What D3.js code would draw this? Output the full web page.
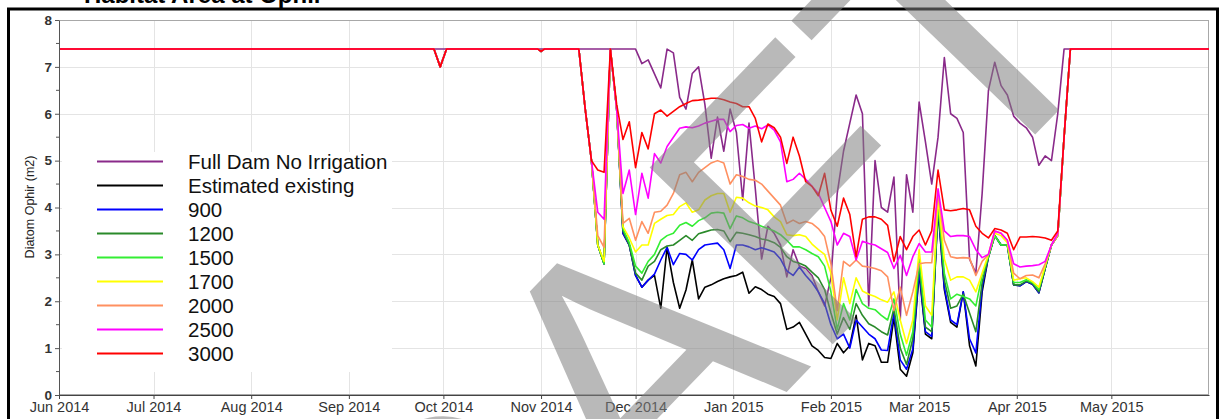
<!DOCTYPE html>
<html lang="en">
  <head>
    <meta charset="UTF-8" />
    <title>Habitat Area at Ophir</title>
    <script src="https://d3js.org/d3.v7.min.js"></script>
    <style>
      body { margin: 0; background: #fff; }
      svg { display: block; font-family: "Liberation Sans", Arial, sans-serif; }
    </style>
  </head>
  <body>
    <svg></svg>
    <script>
      let width = 1221,
        height = 419;

      // dates shared by every series (flat winter part, then every 2nd day while flows vary)
      const dates = [
        "2014-06-01", "2014-09-28", "2014-09-30", "2014-10-02", "2014-10-31", "2014-11-01", "2014-11-02",
        "2014-11-13", "2014-11-15", "2014-11-17", "2014-11-19", "2014-11-21", "2014-11-23", "2014-11-25", "2014-11-27", "2014-11-29",
        "2014-12-01", "2014-12-03", "2014-12-05", "2014-12-07", "2014-12-09", "2014-12-11", "2014-12-13", "2014-12-15",
        "2014-12-17", "2014-12-19", "2014-12-21", "2014-12-23", "2014-12-25", "2014-12-27", "2014-12-29", "2014-12-31",
        "2015-01-02", "2015-01-04", "2015-01-06", "2015-01-08", "2015-01-10", "2015-01-12", "2015-01-14", "2015-01-16",
        "2015-01-18", "2015-01-20", "2015-01-22", "2015-01-24", "2015-01-26", "2015-01-28", "2015-01-30",
        "2015-02-01", "2015-02-03", "2015-02-05", "2015-02-07", "2015-02-09", "2015-02-11", "2015-02-13",
        "2015-02-15", "2015-02-17", "2015-02-19", "2015-02-21", "2015-02-23", "2015-02-25", "2015-02-27",
        "2015-03-01", "2015-03-03", "2015-03-05", "2015-03-07", "2015-03-09", "2015-03-11", "2015-03-13", "2015-03-15",
        "2015-03-17", "2015-03-19", "2015-03-21", "2015-03-23", "2015-03-25", "2015-03-27", "2015-03-29", "2015-03-31",
        "2015-04-02", "2015-04-04", "2015-04-06", "2015-04-08", "2015-04-10", "2015-04-12", "2015-04-14", "2015-04-16", "2015-04-18",
        "2015-06-01"
      ];

      const fullDam = [
        7.38, 7.38, 7.38, 7.38, 7.38, 7.38, 7.38,
        7.38, 7.38, 7.38, 7.38, 7.38, 7.38, 7.38, 7.38, 7.38,
        7.38, 7.07, 7.15, 6.85, 6.55, 7.38, 7.3, 6.35, 6.1, 6.86, 7.0, 6.2, 5.05, 5.93, 5.2, 6.1,
        5.6, 4.16, 5.8, 4.4, 2.9, 3.6, 3.45, 3.2, 2.52, 3.1, 2.75, 2.7, 2.55, 2.2, 1.9,
        2.5, 4.3, 5.2, 5.8, 6.4, 6.0, 1.9, 5.0, 4.0, 3.9, 4.65, 1.6, 4.7, 3.9,
        6.25, 5.4, 4.5, 5.5, 7.2, 6.0, 5.9, 5.6, 2.9, 2.6, 4.3, 6.5, 7.1, 6.6, 6.4, 5.95,
        5.8, 5.7, 5.5, 4.9, 5.1, 5.0, 6.0, 7.38, 7.38,
        7.38
      ];
      const estimated = [
        7.38, 7.38, 7.0, 7.38, 7.38, 7.33, 7.38,
        7.38, 6.11, 5.0, 3.2, 2.8, 7.38, 6.1, 3.45, 3.2,
        2.55, 2.3, 2.45, 2.55, 1.85, 3.15, 2.4, 1.85, 2.24, 2.88, 2.05, 2.3, 2.35, 2.42, 2.48, 2.52,
        2.55, 2.62, 2.17, 2.31, 2.25, 2.15, 2.1, 1.95, 1.4, 1.45, 1.55, 1.3, 1.05, 0.95, 0.8,
        0.78, 1.1, 0.9, 1.05, 1.7, 0.75, 1.1, 1.05, 0.7, 0.7, 1.65, 0.55, 0.4, 0.9,
        2.6, 1.3, 1.2, 3.95, 2.25, 1.55, 1.45, 2.2, 1.05, 0.62, 2.2, 2.95, 3.4, 3.2, 3.2, 2.35,
        2.33, 2.42, 2.36, 2.18, 2.7, 3.2, 3.4, 5.5, 7.38,
        7.38
      ];
      const flow900 = [
        7.38, 7.38, 7.0, 7.38, 7.38, 7.33, 7.38,
        7.38, 6.11, 5.0, 3.2, 2.8, 7.38, 6.1, 3.45, 3.2,
        2.55, 2.3, 2.45, 2.58, 2.88, 3.15, 2.78, 3.02, 3.0, 2.88, 3.1, 3.2, 3.22, 3.24, 3.1, 2.7,
        3.2, 3.2, 3.16, 3.1, 3.14, 3.1, 3.05, 2.9, 2.65, 2.55, 2.73, 2.55, 2.4, 2.2, 1.95,
        1.5, 1.2, 1.3, 1.0, 1.6, 1.45, 1.3, 1.2, 0.96, 0.95, 1.75, 0.75, 0.55, 0.98,
        2.65, 1.35, 1.25, 4.0, 2.3, 1.6, 1.5, 2.2, 1.2, 0.9, 2.3, 2.95, 3.4, 3.2, 3.2, 2.35,
        2.33, 2.42, 2.36, 2.18, 2.7, 3.2, 3.4, 5.5, 7.38,
        7.38
      ];
      const flow1200 = [
        7.38, 7.38, 7.0, 7.38, 7.38, 7.33, 7.38,
        7.38, 6.11, 5.0, 3.2, 2.8, 7.38, 6.1, 3.5, 3.2,
        2.6, 2.45, 2.75, 2.85, 3.1, 3.18, 3.2, 3.3, 3.4, 3.3, 3.44, 3.48, 3.52, 3.53, 3.5, 3.27,
        3.47, 3.45, 3.42, 3.38, 3.33, 3.3, 3.25, 3.15, 2.95, 2.85, 2.81, 2.75, 2.62, 2.5, 2.25,
        1.75, 1.3, 1.65, 1.4, 1.95, 1.7, 1.52, 1.45, 1.35, 1.28, 1.85, 1.0, 0.65, 1.2,
        2.8, 1.45, 1.35, 4.05, 2.45, 1.85, 1.9, 2.15, 1.75, 1.35, 2.4, 2.95, 3.4, 3.2, 3.2, 2.35,
        2.35, 2.43, 2.38, 2.2, 2.7, 3.2, 3.4, 5.5, 7.38,
        7.38
      ];
      const flow1500 = [
        7.38, 7.38, 7.0, 7.38, 7.38, 7.33, 7.38,
        7.38, 6.11, 5.0, 3.2, 2.8, 7.38, 6.1, 3.55, 3.25,
        2.75, 2.6, 2.85, 3.0, 3.3, 3.4, 3.45, 3.62, 3.68, 3.6, 3.72, 3.78, 3.88, 3.9, 3.88, 3.55,
        3.82, 3.78, 3.7, 3.66, 3.6, 3.55, 3.5, 3.42, 3.3, 3.16, 3.16, 3.1, 3.02, 2.95, 2.75,
        2.2, 1.4, 1.95, 1.6, 2.25, 1.95, 1.85, 1.82, 1.7, 1.6, 2.05, 1.3, 0.85, 1.35,
        2.9, 1.6, 1.45, 4.1, 2.6, 2.05, 2.15, 2.1, 2.05, 1.9, 2.55, 2.95, 3.4, 3.2, 3.2, 2.4,
        2.4, 2.46, 2.4, 2.25, 2.73, 3.2, 3.4, 5.5, 7.38,
        7.38
      ];
      const flow1700 = [
        7.38, 7.38, 7.0, 7.38, 7.38, 7.33, 7.38,
        7.38, 6.11, 5.0, 3.2, 2.85, 7.38, 6.1, 3.59, 3.35,
        3.05, 3.2, 3.2, 3.66, 3.75, 3.83, 3.85, 4.02, 4.1, 3.9, 3.95, 4.16, 4.25, 4.3, 4.3, 3.9,
        4.22, 4.2, 4.1, 4.03, 4.0, 3.95, 3.8, 3.7, 3.42, 3.4, 3.42, 3.38, 3.22, 3.1, 3.0,
        2.6, 1.6, 2.5, 1.95, 2.5, 2.22, 2.15, 2.1, 2.03, 1.98, 2.2, 1.6, 1.1, 1.6,
        3.1, 1.9, 1.7, 4.2, 2.9, 2.45, 2.52, 2.52, 2.45, 2.2, 2.6, 3.0, 3.45, 3.4, 3.25, 2.45,
        2.48, 2.5, 2.42, 2.3, 2.75, 3.2, 3.4, 5.5, 7.38,
        7.38
      ];
      const flow2000 = [
        7.38, 7.38, 7.0, 7.38, 7.38, 7.33, 7.38,
        7.38, 6.11, 5.0, 3.4, 3.15, 7.38, 6.1, 3.66, 3.77,
        3.3, 3.7, 3.45, 3.9, 3.92, 4.05, 4.3, 4.7, 4.75, 4.55, 4.75, 4.85, 4.95, 5.0, 4.95, 4.5,
        4.7, 4.66, 4.6, 4.58, 4.5, 4.35, 4.2, 4.05, 3.66, 3.73, 3.66, 3.7, 3.66, 3.55, 3.38,
        2.8, 1.8, 2.85, 2.75, 2.88, 2.75, 2.73, 2.7, 2.65, 2.52, 1.8, 2.3, 1.7, 2.2,
        2.8, 2.82, 2.82, 4.3, 3.3, 2.95, 2.92, 2.93, 2.92, 2.55, 2.85, 3.0, 3.5, 3.45, 3.3, 2.6,
        2.48, 2.55, 2.56, 2.5, 2.8, 3.2, 3.4, 5.5, 7.38,
        7.38
      ];
      const flow2500 = [
        7.38, 7.38, 7.0, 7.38, 7.38, 7.33, 7.38,
        7.38, 6.11, 5.0, 3.9, 3.75, 7.38, 6.1, 4.3, 4.8,
        3.85, 4.73, 4.2, 5.15, 4.95, 5.3, 5.5, 5.69, 5.72, 5.7, 5.74, 5.8, 5.84, 5.88, 5.88, 5.62,
        5.75, 5.77, 5.69, 5.74, 5.68, 5.76, 5.65, 5.4, 4.55, 4.6, 4.73, 4.6, 4.45, 4.3, 4.0,
        3.7, 3.2, 3.45, 3.38, 2.88, 3.28, 3.23, 3.2, 3.12, 3.04, 2.7, 2.98, 2.55, 2.95,
        3.23, 3.05, 3.05, 4.4, 3.5, 3.38, 3.4, 3.4, 3.38, 3.1, 2.93, 3.0, 3.5, 3.45, 3.3, 2.8,
        2.73, 2.75, 2.76, 2.78, 2.85, 3.2, 3.45, 5.5, 7.38,
        7.38
      ];
      const flow3000 = [
        7.38, 7.38, 7.0, 7.38, 7.38, 7.33, 7.38,
        7.38, 6.11, 5.0, 4.8, 4.75, 7.38, 6.2, 5.45, 5.83,
        4.85, 5.6, 5.25, 6.0, 6.08, 5.95, 6.05, 6.15, 6.22, 6.28, 6.29, 6.31, 6.33, 6.33, 6.3, 6.25,
        6.22, 6.15, 6.15, 5.9, 5.4, 5.78, 5.7, 5.5, 4.94, 5.5, 5.1, 4.55, 4.45, 4.25, 4.73,
        3.94, 3.6, 4.2, 3.85, 2.95, 3.75, 3.8, 3.8, 3.75, 3.62, 2.85, 3.38, 3.1, 3.38,
        3.52, 3.2, 3.5, 4.8, 3.95, 3.93, 3.95, 3.98, 3.95, 3.6, 3.45, 3.35, 3.55, 3.52, 3.45, 3.1,
        3.37, 3.37, 3.38, 3.37, 3.35, 3.3, 3.5, 5.5, 7.38,
        7.38
      ];

      const seriesNames = ["Full Dam No Irrigation", "Estimated existing", "900", "1200", "1500", "1700", "2000", "2500", "3000"];
      const seriesColors = ["#8a2a8a", "#000000", "#0000ff", "#2a8a2a", "#33ee33", "#ffff00", "#ff9060", "#ff00ff", "#ff0000"];
      const seriesValues = [fullDam, estimated, flow900, flow1200, flow1500, flow1700, flow2000, flow2500, flow3000];

      const yTicks = [0, 1, 2, 3, 4, 5, 6, 7, 8];
      const yMinor = [0.5, 1.5, 2.5, 3.5, 4.5, 5.5, 6.5, 7.5];

      let parseDate = d3.timeParse("%Y-%m-%d");
      let svg = d3.select("svg").attr("width", width).attr("height", height);

      let x = d3
        .scaleTime()
        .domain([parseDate("2014-06-01"), parseDate("2015-06-01")])
        .range([59, 1209]);
      let y = d3.scaleLinear().domain([0, 8]).range([395, 20]);
      let months = d3.timeMonth.range(parseDate("2014-06-01"), parseDate("2015-06-01"));

      // outer frame + title (title sits mostly above the picture)
      svg
        .append("text")
        .attr("x", 84)
        .attr("y", 3)
        .attr("font-size", 24)
        .attr("font-weight", "bold")
        .text("Habitat Area at Ophir");
      svg
        .append("rect")
        .attr("x", 8.5)
        .attr("y", 9)
        .attr("width", 1209)
        .attr("height", 440)
        .attr("fill", "none")
        .attr("stroke", "#000")
        .attr("stroke-width", 3);

      // grid
      let grid = svg.append("g").attr("stroke", "#e4e4e4").attr("stroke-width", 1);
      grid
        .selectAll("line.v")
        .data(months.slice(1))
        .enter()
        .append("line")
        .attr("x1", (d) => Math.round(x(d)) + 0.5)
        .attr("x2", (d) => Math.round(x(d)) + 0.5)
        .attr("y1", y(8))
        .attr("y2", y(0));
      grid
        .selectAll("line.h")
        .data(yTicks.slice(1, -1))
        .enter()
        .append("line")
        .attr("x1", x.range()[0])
        .attr("x2", x.range()[1])
        .attr("y1", (d) => Math.round(y(d)) + 0.5)
        .attr("y2", (d) => Math.round(y(d)) + 0.5);

      svg
        .append("rect")
        .attr("x", 59.5)
        .attr("y", 20.5)
        .attr("width", 1149)
        .attr("height", 374)
        .attr("fill", "none")
        .attr("stroke", "#a8a8a8");

      // legend box hides the grid behind it
      let legend = svg.append("g");
      legend
        .append("rect")
        .attr("x", 62)
        .attr("y", 152)
        .attr("width", 330)
        .attr("height", 220)
        .attr("fill", "#fff");

      // lines
      svg
        .append("clipPath")
        .attr("id", "plot")
        .append("rect")
        .attr("x", 59)
        .attr("y", 18)
        .attr("width", 1150)
        .attr("height", 378);

      let line = d3
        .line()
        .x((d) => x(d.date))
        .y((d) => y(d.v));

      let lineData = seriesValues.map((vals) =>
        dates.map((d, i) => ({ date: parseDate(d), v: vals[i] }))
      );

      svg
        .append("g")
        .attr("clip-path", "url(#plot)")
        .selectAll("path")
        .data(lineData)
        .enter()
        .append("path")
        .attr("fill", "none")
        .attr("stroke", (d, i) => seriesColors[i])
        .attr("stroke-width", 1.6)
        .attr("stroke-linejoin", "round")
        .attr("d", line);

      // legend entries
      let entries = legend
        .selectAll("g.entry")
        .data(seriesNames)
        .enter()
        .append("g")
        .attr("transform", (d, i) => "translate(0," + (161.5 + i * 24) + ")");
      entries
        .append("line")
        .attr("x1", 97)
        .attr("x2", 163)
        .attr("stroke", (d, i) => seriesColors[i])
        .attr("stroke-width", 2);
      entries
        .append("text")
        .attr("x", 188)
        .attr("y", 7.5)
        .attr("font-size", 20.5)
        .attr("fill", "#111")
        .text((d) => d);

      // axes
      let xAxis = svg
        .append("g")
        .attr("transform", "translate(0,395)")
        .call(
          d3
            .axisBottom(x)
            .tickValues(months)
            .tickFormat(d3.timeFormat("%b %Y"))
            .tickSize(4)
            .tickSizeOuter(0)
        );
      xAxis.select(".domain").attr("stroke", "#444");
      xAxis.selectAll(".tick line").attr("stroke", "#444");
      xAxis
        .selectAll(".tick text")
        .attr("font-size", 14.5)
        .attr("dy", "0.68em")
        .attr("fill", "#333")
        .attr("font-family", "Liberation Sans, Arial, sans-serif");

      let yAxis = svg
        .append("g")
        .attr("transform", "translate(59,0)")
        .call(d3.axisLeft(y).tickValues(yTicks).tickSize(4).tickSizeOuter(0));
      yAxis.select(".domain").attr("stroke", "#555");
      yAxis.selectAll(".tick line").attr("stroke", "#555");
      yAxis
        .selectAll(".tick text")
        .attr("font-size", 13.5)
        .attr("font-weight", "bold")
        .attr("fill", "#333")
        .attr("font-family", "Liberation Sans, Arial, sans-serif");
      yAxis
        .selectAll("line.minor")
        .data(yMinor)
        .enter()
        .append("line")
        .attr("class", "minor")
        .attr("x1", -3)
        .attr("x2", 0)
        .attr("y1", (d) => y(d))
        .attr("y2", (d) => y(d))
        .attr("stroke", "#555");

      svg
        .append("text")
        .attr("transform", "translate(34,207) rotate(-90)")
        .attr("text-anchor", "middle")
        .attr("font-size", 12.5)
        .attr("fill", "#222")
        .text("Diatom Ophir  (m2)");

      // draft watermark, written diagonally across the plot
      svg
        .append("text")
        .attr("transform", "translate(269,928) rotate(-46)")
        .attr("font-size", 370)
        .attr("fill", "#808080")
        .attr("fill-opacity", 0.55)
        .text("DRAFT");
    </script>
  </body>
</html>
